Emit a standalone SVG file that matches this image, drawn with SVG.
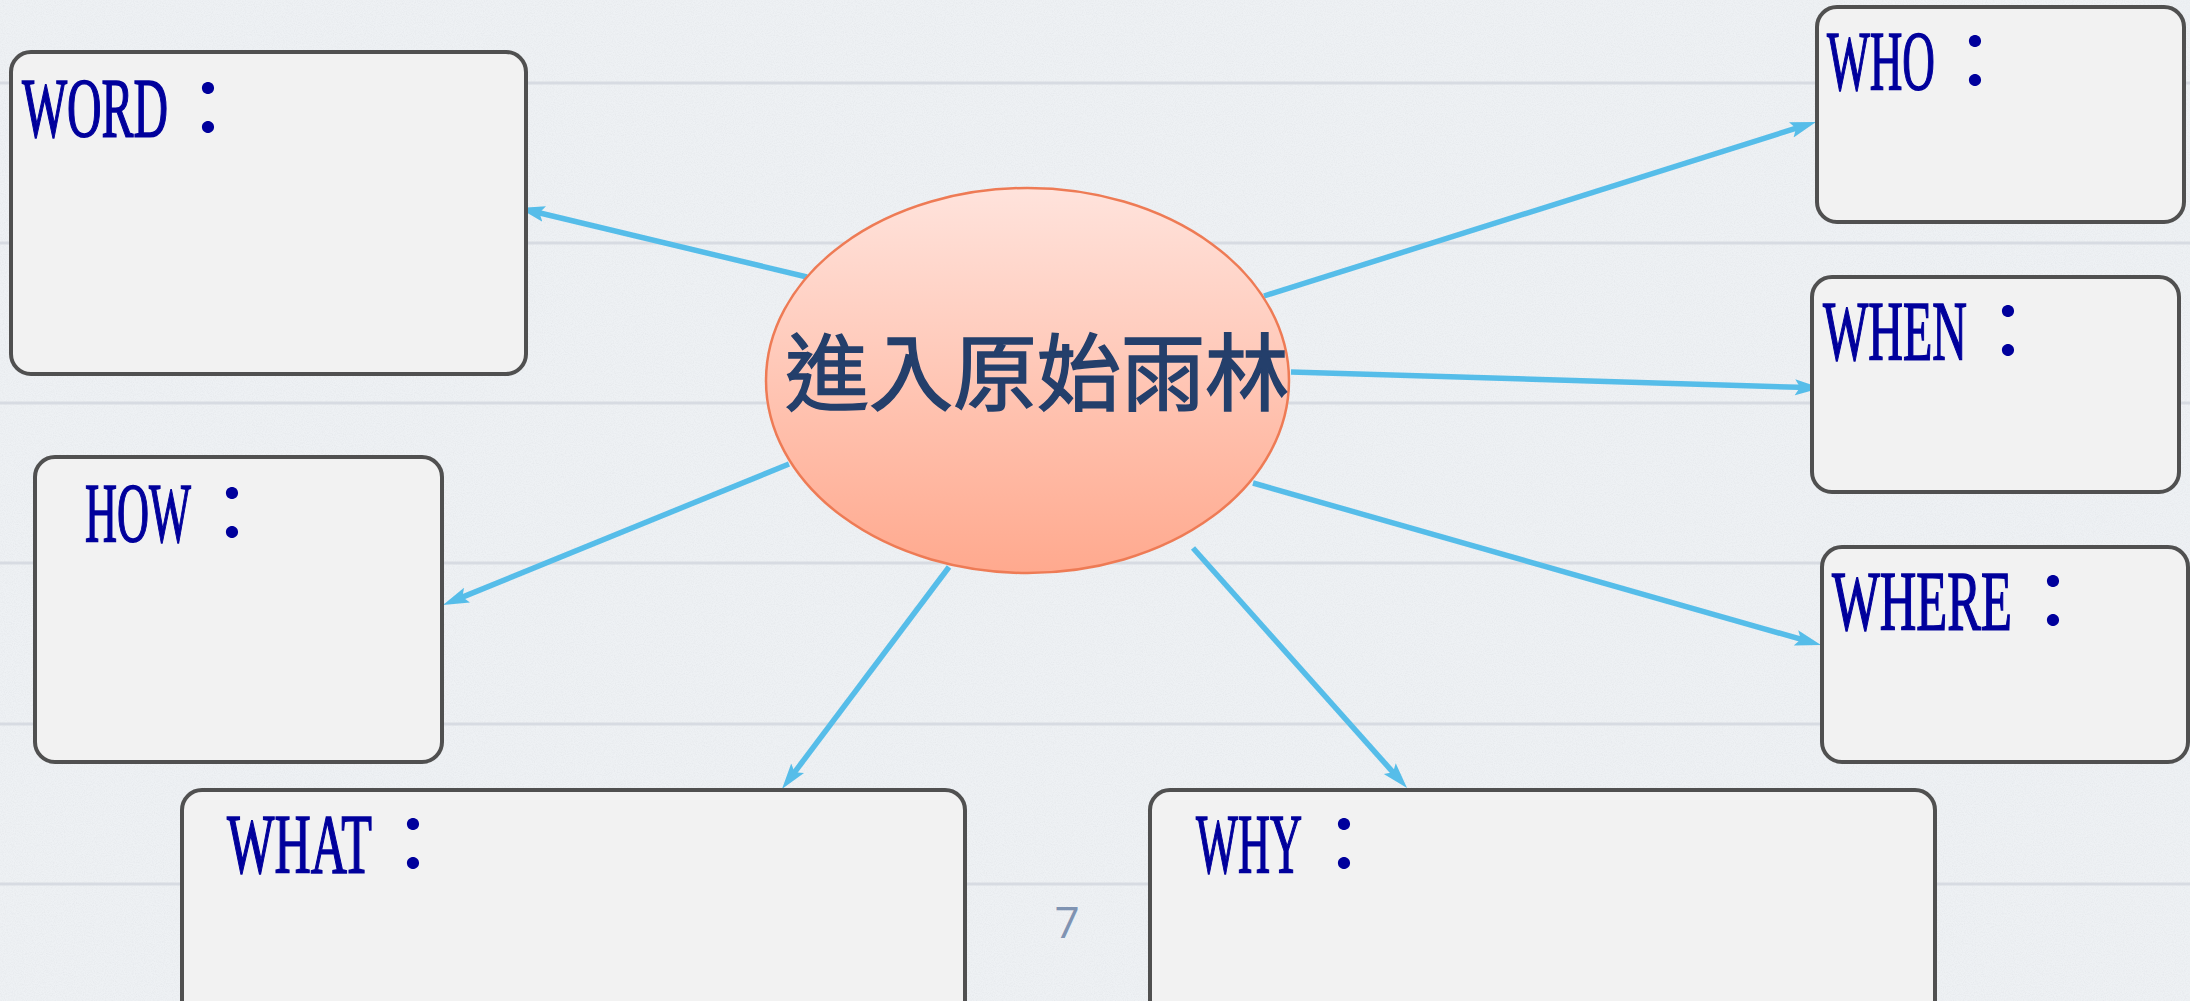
<svg xmlns="http://www.w3.org/2000/svg" width="2190" height="1001" viewBox="0 0 2190 1001">
<style>
.box{fill:#F2F2F2;stroke:#505050;stroke-width:4}
.lbl{font-family:"Liberation Serif",serif;font-size:84px;fill:#00009C;stroke:#00009C;stroke-width:1.6px}
.col{font-family:"Noto Sans CJK TC",sans-serif;font-size:80px;stroke-width:0}
.rule{stroke:#D7DBE2;stroke-width:3}
.conn{stroke:#56BDE9;stroke-width:5.5;fill:none;marker-end:url(#ah)}
</style>
<defs>
<linearGradient id="eg" x1="0" y1="0" x2="0" y2="1">
<stop offset="0" stop-color="#FFE3DC"/>
<stop offset="1" stop-color="#FFA98E"/>
</linearGradient>
<marker id="ah" markerUnits="userSpaceOnUse" markerWidth="26" markerHeight="18" viewBox="0 0 26 18" refX="13" refY="9" orient="auto">
<path d="M0,1 L26,9 L0,17 L5,9 Z" fill="#56BDE9"/>
</marker>
<filter id="noise" x="0" y="0" width="100%" height="100%">
<feTurbulence type="fractalNoise" baseFrequency="0.9" numOctaves="2" seed="3"/>
<feColorMatrix type="matrix" values="0 0 0 0 0.6  0 0 0 0 0.62  0 0 0 0 0.66  0 0 0 -1.2 0.75"/>
</filter>
</defs>
<rect width="2190" height="1001" fill="#EEF1F4"/>
<rect width="2190" height="1001" filter="url(#noise)" opacity="0.35"/>
<g id="rules">
<line class="rule" x1="0" y1="83" x2="2190" y2="83"/>
<line class="rule" x1="0" y1="243" x2="2190" y2="243"/>
<line class="rule" x1="0" y1="403" x2="2190" y2="403"/>
<line class="rule" x1="0" y1="563" x2="2190" y2="563"/>
<line class="rule" x1="0" y1="724" x2="2190" y2="724"/>
<line class="rule" x1="0" y1="884" x2="2190" y2="884"/>
</g>
<g id="connectors">
<line class="conn" x1="807" y1="277" x2="531.6" y2="211"/>
<line class="conn" x1="1264" y1="296" x2="1803.6" y2="125.9"/>
<line class="conn" x1="1291" y1="372" x2="1808" y2="387.6"/>
<line class="conn" x1="1253" y1="483" x2="1808.5" y2="641.4"/>
<line class="conn" x1="789" y1="464" x2="455" y2="600.1"/>
<line class="conn" x1="949" y1="567" x2="789.8" y2="778.6"/>
<line class="conn" x1="1193" y1="548" x2="1398.4" y2="778.3"/>
</g>
<g id="center">
<ellipse cx="1027.5" cy="380.5" rx="261.5" ry="192.5" fill="url(#eg)" stroke="#EE7B55" stroke-width="2.5"/>
<text x="1037" y="404" text-anchor="middle" font-family="'Noto Sans CJK TC',sans-serif" font-size="84" fill="#243F6B" stroke="#243F6B" stroke-width="1.5">進入原始雨林</text>
</g>
<g id="word">
<rect class="box" x="11" y="52" width="515" height="322" rx="20"/>
<text class="lbl" y="137"><tspan x="22" textLength="146" lengthAdjust="spacingAndGlyphs">WORD</tspan><tspan class="col" x="168">：</tspan></text>
</g>
<g id="who">
<rect class="box" x="1817" y="7" width="367" height="215" rx="20"/>
<text class="lbl" y="90"><tspan x="1827" textLength="108" lengthAdjust="spacingAndGlyphs">WHO</tspan><tspan class="col" x="1935">：</tspan></text>
</g>
<g id="when">
<rect class="box" x="1812" y="277" width="367" height="215" rx="20"/>
<text class="lbl" y="360"><tspan x="1823" textLength="144" lengthAdjust="spacingAndGlyphs">WHEN</tspan><tspan class="col" x="1968">：</tspan></text>
</g>
<g id="where">
<rect class="box" x="1822" y="547" width="366" height="215" rx="20"/>
<text class="lbl" y="630"><tspan x="1832" textLength="180" lengthAdjust="spacingAndGlyphs">WHERE</tspan><tspan class="col" x="2013">：</tspan></text>
</g>
<g id="how">
<rect class="box" x="35" y="457" width="407" height="305" rx="20"/>
<text class="lbl" y="542"><tspan x="85" textLength="106" lengthAdjust="spacingAndGlyphs">HOW</tspan><tspan class="col" x="192">：</tspan></text>
</g>
<g id="what">
<rect class="box" x="182" y="790" width="783" height="232" rx="20"/>
<text class="lbl" y="873"><tspan x="227" textLength="145" lengthAdjust="spacingAndGlyphs">WHAT</tspan><tspan class="col" x="373">：</tspan></text>
</g>
<g id="why">
<rect class="box" x="1150" y="790" width="785" height="232" rx="20"/>
<text class="lbl" y="873"><tspan x="1196" textLength="106" lengthAdjust="spacingAndGlyphs">WHY</tspan><tspan class="col" x="1304">：</tspan></text>
</g>
<text x="1067" y="938" text-anchor="middle" font-family="'Open Sans',sans-serif" font-size="44" fill="#7F93B2">7</text>
</svg>
